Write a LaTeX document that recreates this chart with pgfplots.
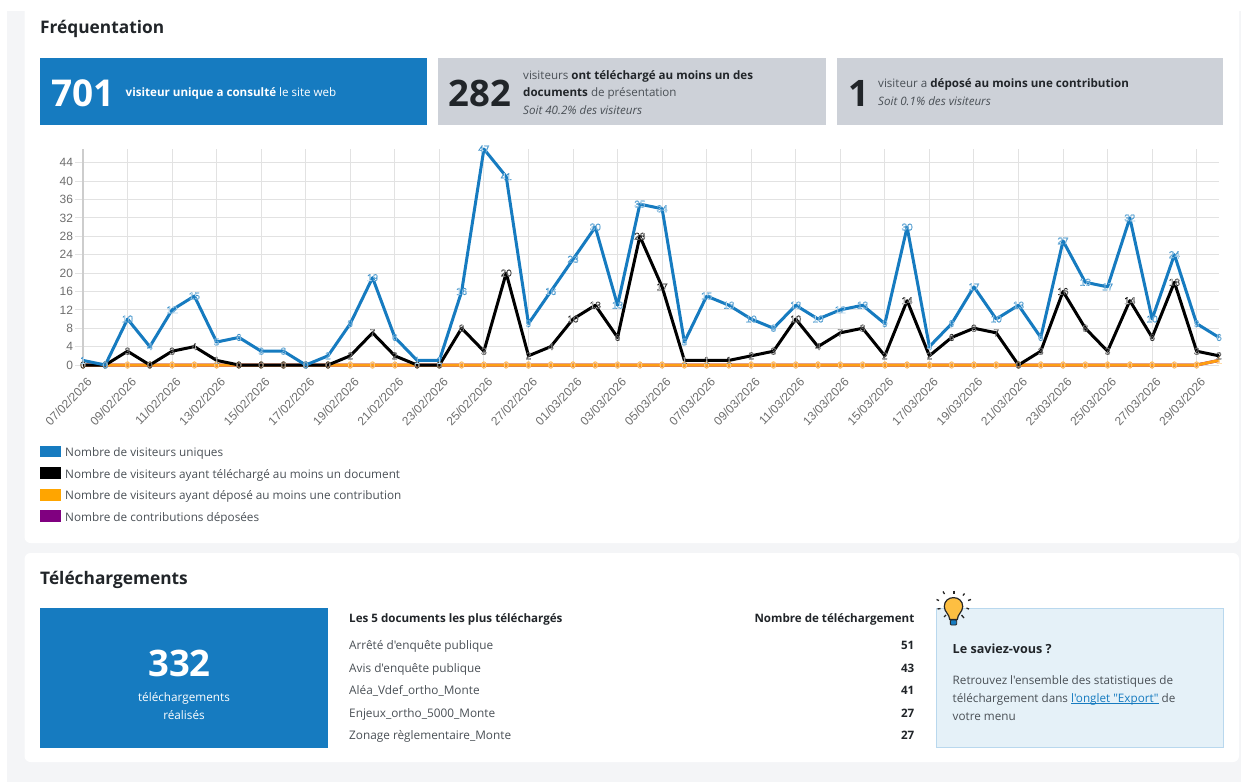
\documentclass[border=0pt]{standalone}
\usepackage{fontspec}
\usepackage{pgfplots}
\usepackage{pgfplotstable}
\pgfplotsset{compat=1.18}
\setmainfont{Open Sans}[Ligatures=TeXOff]
\newfontfamily\chartfont{Liberation Sans}
\definecolor{pagegray}{HTML}{F4F5F7}
\definecolor{kblue}{HTML}{167BC0}
\definecolor{kgray}{HTML}{CDD1D8}
\definecolor{korange}{HTML}{FF9E12}
\definecolor{lorange}{HTML}{FFA500}
\definecolor{kpurple}{HTML}{800080}
\definecolor{tdark}{HTML}{212529}
\definecolor{tmid}{HTML}{4A5056}
\definecolor{gridc}{HTML}{E2E2E2}
\definecolor{axisc}{HTML}{CDCDCD}
\definecolor{bulbc}{HTML}{FDBF42}
\definecolor{infofill}{HTML}{E5F1F8}
\definecolor{infoline}{HTML}{B9D8EE}
\definecolor{ticktext}{HTML}{6E6E6E}
\newcommand\fs[1]{\fontsize{#1}{#1}\selectfont}
% white digits with a thin outline in the series colour (text render mode 2)
\newcommand\stroked[2]{\special{pdf:code q 2 Tr 0.2 w #1 RG}#2\special{pdf:code Q}}
\newcommand\ul[1]{\leavevmode\setbox0\hbox{#1}\rlap{\rule[-1.6pt]{\wd0}{0.65pt}}\box0}
% x, y(baseline), size, colour, text
\newcommand\TL[5]{\node[anchor=base west,inner sep=0pt,text=#4,font=\fs{#3}] at (#1,#2) {#5};}
\newcommand\TR[5]{\node[anchor=base east,inner sep=0pt,text=#4,font=\fs{#3}] at (#1,#2) {#5};}
\newcommand\TC[5]{\node[anchor=base,inner sep=0pt,text=#4,font=\fs{#3}] at (#1,#2) {#5};}
\pgfplotstableread{
x visiteurs telecharge depose contrib
0 1 0 0 0
1 0 0 0 0
2 10 3 0 0
3 4 0 0 0
4 12 3 0 0
5 15 4 0 0
6 5 1 0 0
7 6 0 0 0
8 3 0 0 0
9 3 0 0 0
10 0 0 0 0
11 2 0 0 0
12 9 2 0 0
13 19 7 0 0
14 6 2 0 0
15 1 0 0 0
16 1 0 0 0
17 16 8 0 0
18 47 3 0 0
19 41 20 0 0
20 9 2 0 0
21 16 4 0 0
22 23 10 0 0
23 30 13 0 0
24 13 6 0 0
25 35 28 0 0
26 34 17 0 0
27 5 1 0 0
28 15 1 0 0
29 13 1 0 0
30 10 2 0 0
31 8 3 0 0
32 13 10 0 0
33 10 4 0 0
34 12 7 0 0
35 13 8 0 0
36 9 2 0 0
37 30 14 0 0
38 4 2 0 0
39 9 6 0 0
40 17 8 0 0
41 10 7 0 0
42 13 0 0 0
43 6 3 0 0
44 27 16 0 0
45 18 8 0 0
46 17 3 0 0
47 32 14 0 0
48 10 6 0 0
49 24 18 0 0
50 9 3 0 0
51 6 2 1 1
}\freq
\begin{document}
\begin{tikzpicture}
\useasboundingbox (0pt,0pt) rectangle (1241pt,-782pt);
\begin{scope}[x=1pt,y=-1pt]
% page and cards
\fill[white] (0,0) rectangle (1241,782);
\fill[pagegray] (7,11) rectangle (1241,782);
\fill[white,rounded corners=6pt] (24.5,-20) rectangle (1239,543);
\fill[white,rounded corners=6pt] (24.5,553) rectangle (1239,762);
% section 1 title and boxes
\TL{40}{33}{17.3}{tdark}{\bfseries Fréquentation}
\fill[kblue] (40,58) rectangle (427,124.7);
\fill[kgray] (438,58) rectangle (826,124.7);
\fill[kgray] (836.5,58) rectangle (1223,124.7);
\TL{51}{106}{37}{white}{\bfseries 701}
\TL{125.5}{96}{11.6}{white}{\bfseries visiteur unique a consulté \mdseries le site web}
\TL{448.5}{106}{36.5}{tdark}{\bfseries 282}
\TL{523}{79}{11.6}{tmid}{visiteurs \bfseries\color{tdark} ont téléchargé au moins un des}
\TL{523}{96}{11.6}{tmid}{{\bfseries\color{tdark} documents} de présentation}
\TL{523}{114}{11.6}{tmid}{\itshape Soit 40.2\% des visiteurs}
\TL{848}{106}{36.5}{tdark}{\bfseries 1}
\TL{878}{87.5}{11.6}{tmid}{visiteur a \bfseries\color{tdark} déposé au moins une contribution}
\TL{878}{105}{11.6}{tmid}{\itshape Soit 0.1\% des visiteurs}
% legend
\fill[kblue] (40,445.7) rectangle (61,457);
\fill[black] (40,467) rectangle (61,479);
\fill[lorange] (40,488.7) rectangle (61,500.5);
\fill[kpurple] (40,510) rectangle (61,522);
\TL{65}{456.5}{11.75}{tmid}{Nombre de visiteurs uniques}
\TL{65}{478}{11.75}{tmid}{Nombre de visiteurs ayant téléchargé au moins un document}
\TL{65}{499.5}{11.75}{tmid}{Nombre de visiteurs ayant déposé au moins une contribution}
\TL{65}{521}{11.75}{tmid}{Nombre de contributions déposées}
% section 2
\TL{40}{584}{17.3}{tdark}{\bfseries Téléchargements}
\fill[kblue] (40,608) rectangle (328,747.7);
\TC{179.5}{676}{36.5}{white}{\bfseries 332}
\TC{184}{701}{11.75}{white}{téléchargements}
\TC{184}{719}{11.75}{white}{réalisés}
\TL{349}{622}{11.6}{tdark}{\bfseries Les 5 documents les plus téléchargés}
\TR{914.5}{622}{11.6}{tdark}{\bfseries Nombre de téléchargement}
\TL{349}{649.5}{11.8}{tmid}{Arrêté d'enquête publique}
\TL{349}{672}{11.8}{tmid}{Avis d'enquête publique}
\TL{349}{694.5}{11.8}{tmid}{Aléa\_Vdef\_ortho\_Monte}
\TL{349}{717}{11.8}{tmid}{Enjeux\_ortho\_5000\_Monte}
\TL{349}{739.5}{11.8}{tmid}{Zonage règlementaire\_Monte}
\TR{914.5}{649.5}{11.6}{tdark}{\bfseries 51}
\TR{914.5}{672}{11.6}{tdark}{\bfseries 43}
\TR{914.5}{694.5}{11.6}{tdark}{\bfseries 41}
\TR{914.5}{717}{11.6}{tdark}{\bfseries 27}
\TR{914.5}{739.5}{11.6}{tdark}{\bfseries 27}
% info box
\draw[fill=infofill,draw=infoline,line width=0.8pt] (936,608.4) rectangle (1223,747.3);
\TL{952.5}{653.5}{12.6}{tdark}{\bfseries Le saviez-vous ?}
\TL{952.5}{684.5}{11.7}{tmid}{Retrouvez l'ensemble des statistiques de}
\TL{952.5}{702.5}{11.7}{tmid}{téléchargement dans {\color{kblue}\ul{l'onglet "Export"}} de}
\TL{952.5}{720.5}{11.7}{tmid}{votre menu}
% bulb
\draw[fill=bulbc,draw=black!85,line width=1.2pt]
 (949.7,619.5) .. controls (949.5,614) and (944.3,612) .. (944.3,606.5)
 .. controls (944.3,601) and (948.5,597.6) .. (953.5,597.6)
 .. controls (958.5,597.6) and (962.7,601) .. (962.7,606.5)
 .. controls (962.7,612) and (957.5,614) .. (957.3,619.5) -- cycle;
\draw[fill=kblue,draw=black!85,line width=0.9pt,rounded corners=1pt] (950.3,620) rectangle (956.7,625);
\foreach \a/\b/\c/\d in {954/590.5/954/593.5, 943/591.5/944.5/594, 964.5/593.5/963/595.5, 971/599.5/968/600.5, 939/600.5/936.5/599.5, 937.5/609/940.5/608.5, 969/609/966.5/608, 944/617/946/615, 961.5/615/964/618}{
  \draw[black!85,line width=1.3pt] (\a,\b) -- (\c,\d);}
\end{scope}
% chart
\begin{axis}[
  at={(83pt,-365pt)},anchor=south west,
  scale only axis,width=1136pt,height=216pt,
  xmin=0,xmax=51,ymin=0,ymax=47,clip=false,
  axis x line*=bottom,axis y line*=left,
  x axis line style={draw=none,-},
  y axis line style={draw=axisc,line width=1.3pt,-},
  /pgf/number format/assume math mode=true,
  xtick={0,2,...,50},
  xticklabels={07/02/2026,09/02/2026,11/02/2026,13/02/2026,15/02/2026,17/02/2026,19/02/2026,21/02/2026,23/02/2026,25/02/2026,27/02/2026,01/03/2026,03/03/2026,05/03/2026,07/03/2026,09/03/2026,11/03/2026,13/03/2026,15/03/2026,17/03/2026,19/03/2026,21/03/2026,23/03/2026,25/03/2026,27/03/2026,29/03/2026},
  ytick={0,4,...,44},
  grid=major,
  grid style={gridc,line width=0.9pt},
  tick align=outside,
  xtick style={gridc,line width=0.9pt,/pgfplots/major tick length=4pt},
  ytick style={gridc,line width=0.9pt,/pgfplots/major tick length=8pt},
  x tick label style={xshift=6.5pt,yshift=-10.5pt,rotate=46,anchor=east,text=ticktext,font=\chartfont\fs{12},inner sep=0pt},
  y tick label style={anchor=east,text=ticktext,font=\chartfont\fs{12},inner sep=0pt,xshift=-5.5pt},
  every node near coord/.style={anchor=center,font=\chartfont\fs{10},inner sep=0pt,text=white},
  lab/.style={nodes near coords={\stroked{#1}{\pgfmathprintnumber{\pgfplotspointmeta}}},point meta=explicit},
]
\addplot[kpurple,line width=3pt,line join=round,no marks] table[x=x,y=contrib] {\freq};
\addplot[korange,line width=3pt,line join=round,mark=none,lab={1 0.62 0.07}] table[x=x,y=depose,meta=depose] {\freq};
\addplot[black,line width=3pt,line join=round,mark=none,lab={0 0 0}] table[x=x,y=telecharge,meta=telecharge] {\freq};
\addplot[kblue,line width=3pt,line join=round,mark=none,lab={0.086 0.482 0.753}] table[x=x,y=visiteurs,meta=visiteurs] {\freq};
\end{axis}
\end{tikzpicture}
\end{document}
